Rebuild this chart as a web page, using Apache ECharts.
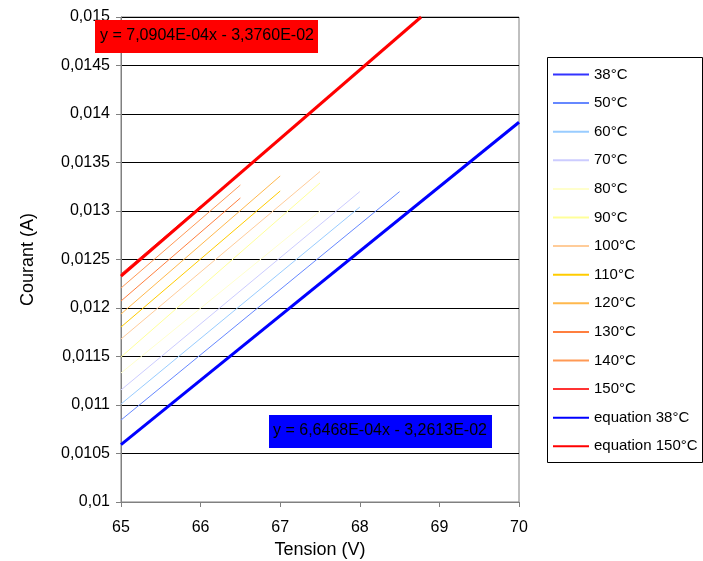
<!DOCTYPE html>
<html>
<head>
<meta charset="utf-8">
<script src="https://cdn.jsdelivr.net/npm/echarts@6/dist/echarts.min.js"></script>
<style>html,body{margin:0;padding:0;background:#fff}#c{width:703px;height:561px}</style>
</head>
<body>
<div id="c"></div>
<script>
// Data
var seriesNames = ['38°C','50°C','60°C','70°C','80°C','90°C','100°C','110°C','120°C','130°C','140°C','150°C','equation 38°C','equation 150°C'];
var t38  = [[65, 0.01059], [70, 0.013915]];
var t50  = [[65, 0.010845], [68.5, 0.01320]];
var t60  = [[65, 0.01101], [68.0, 0.01304]];
var t70  = [[65, 0.011155], [68.0, 0.01320]];
var t80  = [[65, 0.01133], [67.5, 0.01300]];
var t90  = [[65, 0.011495], [67.5, 0.013289]];
var t100 = [[65, 0.01168], [67.5, 0.013407]];
var t110 = [[65, 0.011804], [67.0, 0.013206]];
var t120 = [[65, 0.011938], [67.0, 0.013361]];
var t130 = [[65, 0.012072], [66.5, 0.013134]];
var t140 = [[65, 0.012206], [66.5, 0.013268]];
var t150 = [[65, 0.012351], [66.0, 0.01305]];
var eq38  = [[65, 0.010591], [70, 0.013915]];
var eq150 = [[65, 0.012328], [68.77, 0.015]];
var eqLabel150 = 'y = 7,0904E-04x - 3,3760E-02';
var eqLabel38  = 'y = 6,6468E-04x - 3,2613E-02';

var colors = ['#3333FF','#6688FF','#99CCFF','#CCCCFF','#FFFFCC','#FFFF99','#FFCC99','#FFCC00','#FFB84D','#FF7F3F','#FF9955','#FF3333','#0000FF','#FF0000'];
var datas = [t38,t50,t60,t70,t80,t90,t100,t110,t120,t130,t140,t150,eq38,eq150];
var widths = [1,1,1,1,1,1,1,1,1,1,1,1,3,3];

var FONT = 'Liberation Sans, Arial, sans-serif';
var chart = echarts.init(document.getElementById('c'), null, {renderer:'canvas'});
var series = datas.map(function(d, i){
  return {
    name: seriesNames[i], type: 'line', data: d, symbol: 'none', showSymbol: false,
    lineStyle: {color: colors[i], width: widths[i]}, itemStyle: {color: colors[i]},
    z: i >= 12 ? 5 : 3, animation: false, silent: true
  };
});
chart.setOption({
  animation: false,
  backgroundColor: '#fff',
  textStyle: {fontFamily: FONT},
  grid: {left: 121, right: 184, top: 17, bottom: 59, show: true, borderColor: '#808080', borderWidth: 1, backgroundColor: 'transparent',
         containLabel: false, outerBoundsMode: 'none'},
  xAxis: {
    type: 'value', min: 65, max: 70, interval: 1,
    name: 'Tension (V)', nameLocation: 'middle', nameGap: 38,
    nameTextStyle: {fontSize: 18, color: '#000', fontFamily: FONT},
    axisLine: {lineStyle: {color: '#808080', width: 1}},
    axisTick: {show: true, length: 5, inside: false, lineStyle: {color: '#808080'}},
    axisLabel: {fontSize: 16, color: '#000', margin: 18, fontFamily: FONT},
    splitLine: {show: false}
  },
  yAxis: {
    type: 'value', min: 0.01, max: 0.015, interval: 0.0005,
    name: 'Courant (A)', nameLocation: 'middle', nameGap: 84,
    nameTextStyle: {fontSize: 18, color: '#000', fontFamily: FONT},
    axisLine: {show: true, lineStyle: {color: '#808080', width: 1}},
    axisTick: {show: true, length: 5, inside: false, lineStyle: {color: '#808080'}},
    axisLabel: {fontSize: 16, color: '#000', margin: 11, fontFamily: FONT,
      formatter: function(v){ return parseFloat(v.toFixed(5)).toString().replace('.', ','); }},
    splitLine: {show: true, lineStyle: {color: '#000', width: 1}}
  },
  legend: {
    orient: 'vertical', left: 552, top: 67, itemWidth: 36, itemHeight: 16, itemGap: 13.6,
    padding: 0,
    data: seriesNames, selectedMode: false,
    itemStyle: {color: 'rgba(0,0,0,0)', borderColor: 'rgba(0,0,0,0)', borderWidth: 0, opacity: 0},
    textStyle: {fontSize: 15, color: '#000', fontFamily: FONT}
  },
  graphic: [
    {type: 'rect', left: 547, top: 57, shape: {width: 155, height: 405}, style: {fill: 'transparent', stroke: '#000', lineWidth: 1}, z: 1, silent: true},
    {type: 'rect', left: 95, top: 20, shape: {width: 223, height: 33}, style: {fill: '#FF0000'}, z: 10},
    {type: 'text', style: {text: eqLabel150, fill: '#000', font: '16px ' + FONT}, left: 100, top: 28, z: 11},
    {type: 'rect', left: 269, top: 415, shape: {width: 223, height: 33}, style: {fill: '#0000FF'}, z: 10},
    {type: 'text', style: {text: eqLabel38, fill: '#000', font: '16px ' + FONT}, left: 273, top: 423, z: 11}
  ],
  series: series
});
</script>
</body>
</html>
